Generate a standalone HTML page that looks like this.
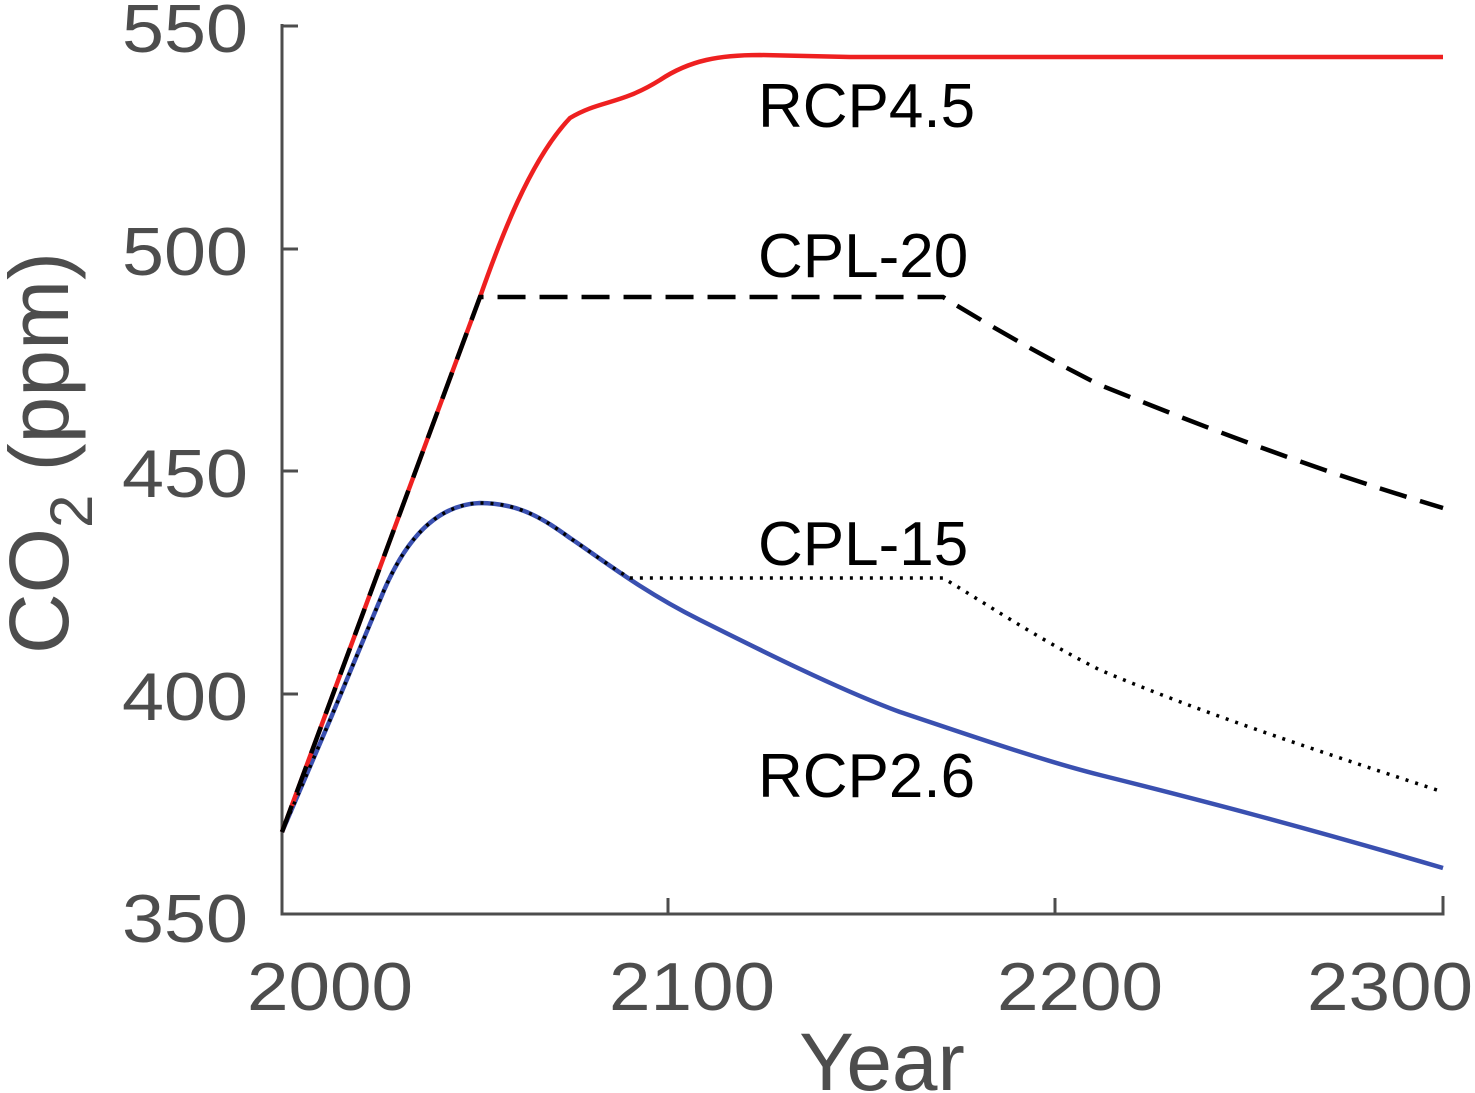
<!DOCTYPE html>
<html><head><meta charset="utf-8"><style>
html,body{margin:0;padding:0;background:#fff;}
svg{display:block;}
text{font-family:"Liberation Sans",sans-serif;}
</style></head><body>
<svg width="1475" height="1093" viewBox="0 0 1475 1093" xmlns="http://www.w3.org/2000/svg">
<g stroke="#4d4d4d" stroke-width="3" fill="none">
<path d="M282,24 V914 H1443 V896"/>
<path d="M282,26 H298 M282,249 H298 M282,471 H298 M282,694 H298"/>
<path d="M668,914 V898 M1055,914 V898"/>
</g>
<g fill="#4d4d4d" font-size="68">
<text x="122" y="52" textLength="126" lengthAdjust="spacingAndGlyphs">550</text>
<text x="122" y="275" textLength="126" lengthAdjust="spacingAndGlyphs">500</text>
<text x="122" y="497" textLength="126" lengthAdjust="spacingAndGlyphs">450</text>
<text x="122" y="720" textLength="126" lengthAdjust="spacingAndGlyphs">400</text>
<text x="122" y="942" textLength="126" lengthAdjust="spacingAndGlyphs">350</text>
<text x="247" y="1010" textLength="166" lengthAdjust="spacingAndGlyphs">2000</text>
<text x="609" y="1010" textLength="166" lengthAdjust="spacingAndGlyphs">2100</text>
<text x="997" y="1010" textLength="166" lengthAdjust="spacingAndGlyphs">2200</text>
<text x="1307" y="1010" textLength="166" lengthAdjust="spacingAndGlyphs">2300</text>
</g>
<text x="882" y="1090" fill="#4d4d4d" font-size="82" text-anchor="middle">Year</text>
<text transform="translate(68,453) rotate(-90)" fill="#4d4d4d" font-size="84" text-anchor="middle">CO<tspan font-size="60" dy="24">2</tspan><tspan dy="-24"> (ppm)</tspan></text>
<g fill="none" stroke-width="4.5">
<path stroke="#3a50b0" d="M282,832 L330,720 L380,600 C400,550 430,505 480,503 C520,503 545,520 570,538 C600,558 640,590 700,620 C760,650 840,690 900,712 C960,732 1040,760 1100,775 C1200,800 1300,826 1443,868"/>
<path stroke="#ee2020" d="M282,832 L480,297 C500,240 530,160 570,118 C600,100 620,105 660,80 C690,60 720,55 760,55 L850,57 L1443,57"/>
<path stroke="#000" stroke-dasharray="28,14" d="M282,832 L480,297 L943,297 C980,320 1040,355 1100,385 C1200,425 1300,465 1443,508"/>
<path stroke="#000" stroke-width="3.5" stroke-dasharray="3,7" d="M282,832 L330,720 L380,600 C400,550 430,505 480,503 C520,503 545,520 570,538 C595,555 612,568 630,578 L943,578 C980,600 1040,640 1100,670 C1200,712 1300,745 1443,792"/>
</g>
<g fill="#000" font-size="62">
<text x="758" y="127">RCP4.5</text>
<text x="758" y="277">CPL-20</text>
<text x="758" y="565">CPL-15</text>
<text x="758" y="797">RCP2.6</text>
</g>
</svg>
</body></html>
